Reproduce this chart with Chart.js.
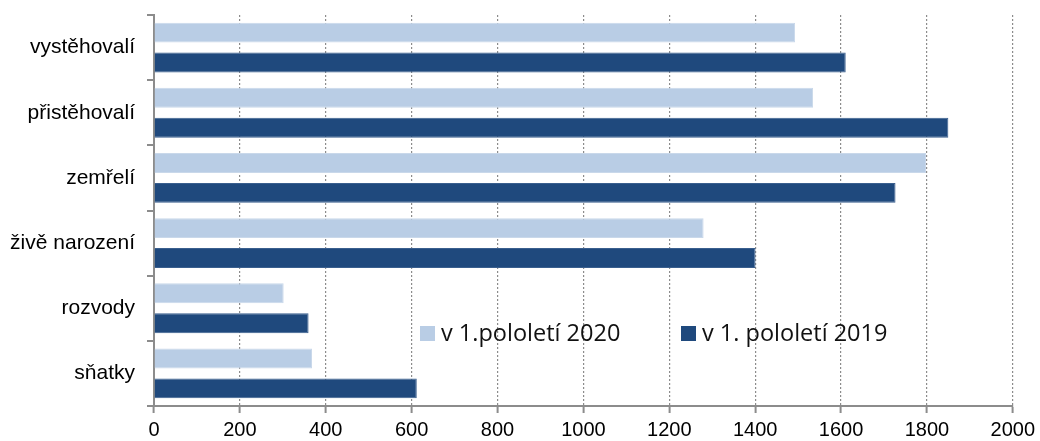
<!DOCTYPE html>
<html>
<head>
<meta charset="utf-8">
<script src="https://cdn.jsdelivr.net/npm/chart.js@4"></script>
<style>
  html, body { margin: 0; padding: 0; background: #fff; }
  #wrap { position: relative; width: 1040px; height: 441px; }
  #legend { position: absolute; left: 0; top: 0; font-family: "Open Sans", sans-serif; font-size: 23.5px; color: #111; white-space: nowrap; }
  #legend span.item { position: absolute; top: 316px; line-height: 32px; }
  #legend span.box { display: inline-block; width: 15px; height: 15px; margin-right: 6px; vertical-align: 0px; }
</style>
</head>
<body>
<div id="wrap">
  <canvas id="chart" width="1040" height="441"></canvas>
  <div id="legend"></div>
</div>
<script>
// Data
const categories = ['vystěhovalí', 'přistěhovalí', 'zemřelí', 'živě narození', 'rozvody', 'sňatky'];
const series2020 = [1493, 1535, 1798, 1280, 302, 368];
const series2019 = [1611, 1850, 1727, 1401, 360, 612];
const seriesLabels = ['v 1.pololetí 2020', 'v 1. pololetí 2019'];
const seriesColors = ['#B9CDE5', '#1F497D'];
const xTicks = [0, 200, 400, 600, 800, 1000, 1200, 1400, 1600, 1800, 2000];

const ctx = document.getElementById('chart').getContext('2d');
const chart = new Chart(ctx, {
    type: 'bar',
    data: {
        labels: categories,
        datasets: [
            {
                label: seriesLabels[0],
                data: series2020,
                backgroundColor: seriesColors[0],
                borderColor: '#C9D8EA',
                borderWidth: 1,
                categoryPercentage: 0.918,
                barPercentage: 0.667
            },
            {
                label: seriesLabels[1],
                data: series2019,
                backgroundColor: seriesColors[1],
                borderColor: '#3A5F8E',
                borderWidth: 1,
                categoryPercentage: 0.918,
                barPercentage: 0.667
            }
        ]
    },
    options: {
        indexAxis: 'y',
        responsive: false,
        animation: false,
        layout: { padding: { top: 15, right: 26, left: 0, bottom: 0 } },
        plugins: {
            legend: { display: false },
            tooltip: { enabled: false }
        },
        scales: {
            x: {
                min: 0,
                max: 2000,
                afterBuildTicks: function(scale) {
                    scale.ticks = xTicks.map(v => ({ value: v }));
                },
                afterFit: function(scale) { scale.height = 35; },
                border: { color: '#8C8C8C', width: 2, dash: [2, 2] },
                grid: {
                    color: '#8C8C8C',
                    lineWidth: 1.2,
                    tickLength: 7,
                    tickColor: '#8C8C8C',
                    tickWidth: 2,
                    tickBorderDash: []
                },
                ticks: {
                    color: '#000',
                    font: { family: '"Liberation Sans", Arial, sans-serif', size: 20 },
                    padding: 5,
                    maxRotation: 0,
                    callback: function(value) { return String(value); }
                }
            },
            y: {
                afterFit: function(scale) {
                    scale.width = 154;
                    // keep the plot top at the layout padding
                    scale.paddingTop = 0;
                    scale.paddingBottom = 0;
                },
                border: { color: '#8C8C8C', width: 2 },
                grid: {
                    offset: true,
                    drawOnChartArea: false,
                    tickLength: 7,
                    color: '#8C8C8C',
                    lineWidth: 2
                },
                ticks: {
                    color: '#000',
                    font: { family: '"Liberation Sans", Arial, sans-serif', size: 21 },
                    padding: 12
                }
            }
        }
    }
});

// Legend inside the plot area, built from the datasets
const legendLeft = [420, 681];
const legend = document.getElementById('legend');
chart.data.datasets.forEach(function(ds, i) {
    const item = document.createElement('span');
    item.className = 'item';
    item.style.left = legendLeft[i] + 'px';
    const box = document.createElement('span');
    box.className = 'box';
    box.style.background = ds.backgroundColor;
    item.appendChild(box);
    item.appendChild(document.createTextNode(ds.label));
    legend.appendChild(item);
});
</script>
</body>
</html>
